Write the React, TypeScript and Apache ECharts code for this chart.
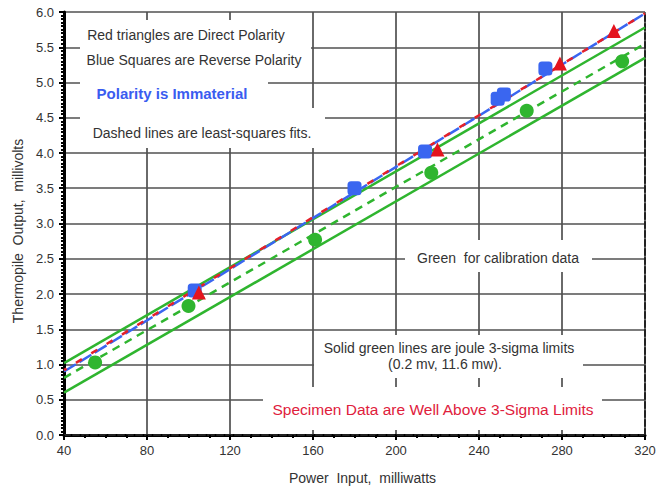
import React, { useEffect, useRef } from "react";
import * as echarts from "echarts";

const redX = [105, 220, 279, 305];
const redY = [2.02, 4.05, 5.27, 5.73];
const blueX = [103, 180, 214, 249, 252, 272];
const blueY = [2.05, 3.5, 4.02, 4.77, 4.83, 5.2];
const greenX = [55, 100, 161, 217, 263, 309];
const greenY = [1.03, 1.83, 2.77, 3.72, 4.6, 5.3];

// Fit / limit lines (end points)
const fitX = [40, 320];
const blueFitY = [0.9, 5.98];
const redFitY = [0.92, 5.98];
const greenFitY = [0.81, 5.55];
const greenUpperY = [1.02, 5.78];
const greenLowerY = [0.6, 5.35];

const xTickLabels = ["40", "80", "120", "160", "200", "240", "280", "320"];
const yTickLabels = ["0.0", "0.5", "1.0", "1.5", "2.0", "2.5", "3.0", "3.5", "4.0", "4.5", "5.0", "5.5", "6.0"];

const noteLines = [
  "Red triangles are Direct Polarity",
  "Blue Squares are Reverse Polarity",
  "Polarity is Immaterial",
  "Dashed lines are least-squares fits.",
  "Green  for calibration data",
  "Solid green lines are joule 3-sigma limits",
  "(0.2 mv, 11.6 mw).",
  "Specimen Data are Well Above 3-Sigma Limits",
];

const zip = (xs: number[], ys: number[]) => xs.map((x, i) => [x, ys[i]]);

const FONT = '"Liberation Sans", Arial, Helvetica, sans-serif';

export default function App() {
  const ref = useRef<HTMLDivElement>(null);
  useEffect(() => {
    if (!ref.current) return;
    const chart = echarts.init(ref.current, undefined, { renderer: "svg" });
    const txt = (text: string, x: number, y: number, fill = "#333", size = 14, weight = "normal") => ({
      type: "text",
      x,
      y,
      z: 5,
      style: {
        text,
        fill,
        fontSize: size,
        fontFamily: FONT,
        fontWeight: weight,
        textAlign: "center",
        textVerticalAlign: "middle",
        align: "center",
        verticalAlign: "middle",
      },
    });
    const box = (x: number, y: number, w: number, h: number) => ({
      type: "rect",
      z: 1,
      shape: { x, y, width: w, height: h },
      style: { fill: "#ffffff" },
    });
    const gridLine = { show: true, lineStyle: { color: "#505050", width: 1.7 } };
    chart.setOption({
      animation: false,
      backgroundColor: "#fff",
      grid: { left: 64, right: 15, top: 12, bottom: 57 },
      xAxis: [
        {
          type: "value",
          min: 40,
          max: 320,
          interval: 40,
          name: "Power  Input,  milliwatts",
          nameLocation: "middle",
          nameGap: 36,
          nameTextStyle: { color: "#333", fontSize: 14, fontFamily: FONT, padding: [0, 0, 0, 16] },
          axisLine: { show: true, lineStyle: { color: "#000", width: 3 } },
          axisTick: { show: true, length: 5, lineStyle: { color: "#000", width: 2 } },
          minorTick: { show: true, splitNumber: 4, length: 3, lineStyle: { color: "#000", width: 2 } },
          axisLabel: {
            color: "#333",
            fontSize: 13,
            fontFamily: FONT,
            margin: 9,
            formatter: (v: number) => xTickLabels[Math.round((v - 40) / 40)] ?? String(v),
          },
          splitLine: gridLine,
        },
        {
          type: "value",
          position: "top",
          min: 40,
          max: 320,
          interval: 40,
          axisLine: { show: true, lineStyle: { color: "#222", width: 2, type: [6, 3] } },
          axisTick: { show: false },
          axisLabel: { show: false },
          splitLine: { show: false },
        },
      ],
      yAxis: [
        {
          type: "value",
          min: 0,
          max: 6,
          interval: 0.5,
          name: "Thermopile  Output,  millivolts",
          nameLocation: "middle",
          nameGap: 37,
          nameTextStyle: { color: "#333", fontSize: 14, fontFamily: FONT, padding: [0, 15, 0, 0] },
          axisLine: { show: true, lineStyle: { color: "#000", width: 3 } },
          axisTick: { show: true, length: 5, lineStyle: { color: "#000", width: 2 } },
          minorTick: { show: true, splitNumber: 10, length: 3, lineStyle: { color: "#000", width: 2 } },
          axisLabel: {
            color: "#333",
            fontSize: 13,
            fontFamily: FONT,
            margin: 10,
            formatter: (v: number) => yTickLabels[Math.round(v / 0.5)] ?? v.toFixed(1),
          },
          splitLine: gridLine,
        },
        {
          type: "value",
          position: "right",
          min: 0,
          max: 6,
          interval: 0.5,
          axisLine: { show: true, lineStyle: { color: "#222", width: 2, type: [6, 3] } },
          axisTick: { show: false },
          axisLabel: { show: false },
          splitLine: { show: false },
        },
      ],
      series: [
        {
          type: "line",
          name: "Lower 3-sigma",
          data: zip(fitX, greenLowerY),
          symbol: "none",
          lineStyle: { color: "#2fb52f", width: 2.5 },
          z: 2,
        },
        {
          type: "line",
          name: "Upper 3-sigma",
          data: zip(fitX, greenUpperY),
          symbol: "none",
          lineStyle: { color: "#2fb52f", width: 2.5 },
          z: 2,
        },
        {
          type: "line",
          name: "Calibration fit",
          data: zip(fitX, greenFitY),
          symbol: "none",
          lineStyle: { color: "#2fb52f", width: 2.5, type: [8, 6] },
          z: 2,
        },
        {
          type: "line",
          name: "Reverse fit",
          data: zip(fitX, blueFitY),
          symbol: "none",
          lineStyle: { color: "#3a66f0", width: 2.5, type: [14, 4] },
          z: 3,
        },
        {
          type: "line",
          name: "Direct fit",
          data: zip(fitX, redFitY),
          symbol: "none",
          lineStyle: { color: "#e4202a", width: 2.5, type: [7, 11], dashOffset: 4 },
          z: 3,
        },
        {
          type: "scatter",
          name: "Calibration",
          data: zip(greenX, greenY),
          symbol: "circle",
          symbolSize: 14,
          itemStyle: { color: "#2fb52f", opacity: 1 },
          z: 4,
        },
        {
          type: "scatter",
          name: "Reverse Polarity",
          data: zip(blueX, blueY),
          symbol: "roundRect",
          symbolSize: 14,
          itemStyle: { color: "#3a66f0", opacity: 1 },
          z: 4,
        },
        {
          type: "scatter",
          name: "Direct Polarity",
          data: zip(redX, redY),
          symbol: "triangle",
          symbolSize: 14,
          itemStyle: { color: "#e4141e", opacity: 1 },
          z: 4,
        },
      ],
      graphic: [
        box(80, 20, 231, 52),
        box(80, 72, 188, 36),
        box(80, 108, 245, 40),
        box(405, 240, 187, 32),
        box(314, 335, 269, 43),
        box(263, 387, 339, 43),
        txt(noteLines[0], 186, 35),
        txt(noteLines[1], 194, 60),
        txt(noteLines[2], 172, 93, "#3a5cf0", 15, "bold"),
        txt(noteLines[3], 202, 133),
        txt(noteLines[4], 498, 258),
        txt(noteLines[5], 449, 348),
        txt(noteLines[6], 445, 364),
        txt(noteLines[7], 433, 409, "#e0203c", 15.5),
      ],
    });
    return () => chart.dispose();
  }, []);
  return (
    <div
      ref={ref}
      style={{ position: "fixed", left: 0, top: 0, width: 660, height: 492 }}
    />
  );
}
